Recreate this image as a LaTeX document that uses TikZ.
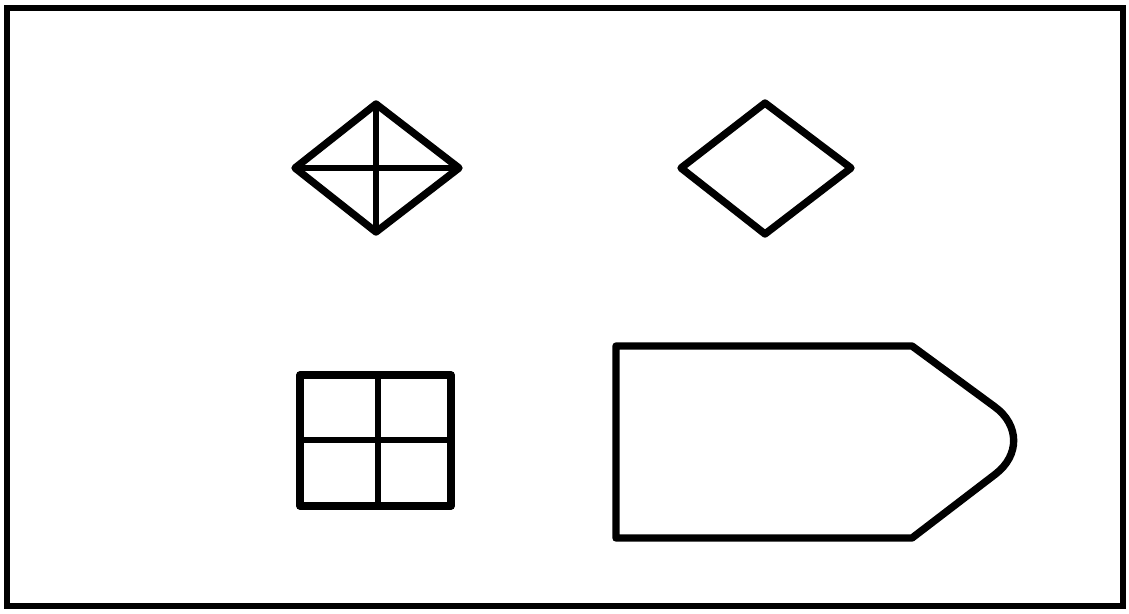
\documentclass[tikz,border=0pt]{standalone}
\usepackage{tikz}
\definecolor{ink}{RGB}{0,0,0}
\tikzset{
  frameline/.style={draw=ink, line width=3.8pt},
  shapeline/.style={draw=ink, line width=4.2pt, line join=round},
  crossline/.style={draw=ink, line width=3.4pt}
}

\begin{document}
\begin{tikzpicture}[x=0.02cm, y=-0.02cm]
  \useasboundingbox (0,0) rectangle (1129,613);
  % outer frame
  \draw[frameline] (7,8) rectangle (1123,606);
  % diamond with cross
  \draw[shapeline] (376,104) -- (459,168) -- (376,232) -- (295,168) -- cycle;
  \draw[crossline] (376,104) -- (376,232);
  \draw[crossline] (295,168) -- (459,168);
  % plain diamond
  \draw[shapeline] (765,103) -- (851,168) -- (765,234) -- (681,168) -- cycle;
  % window square
  \draw[shapeline] (300,375) rectangle (451,506);
  \draw[crossline] (378,375) -- (378,506);
  \draw[crossline] (300,440) -- (451,440);
  % pointed panel
  \draw[shapeline] (616,346) -- (912,346)
    [rounded corners=32pt] -- (1040,440)
    [sharp corners] -- (912,538) -- (616,538) -- cycle;
\end{tikzpicture}
\end{document}
